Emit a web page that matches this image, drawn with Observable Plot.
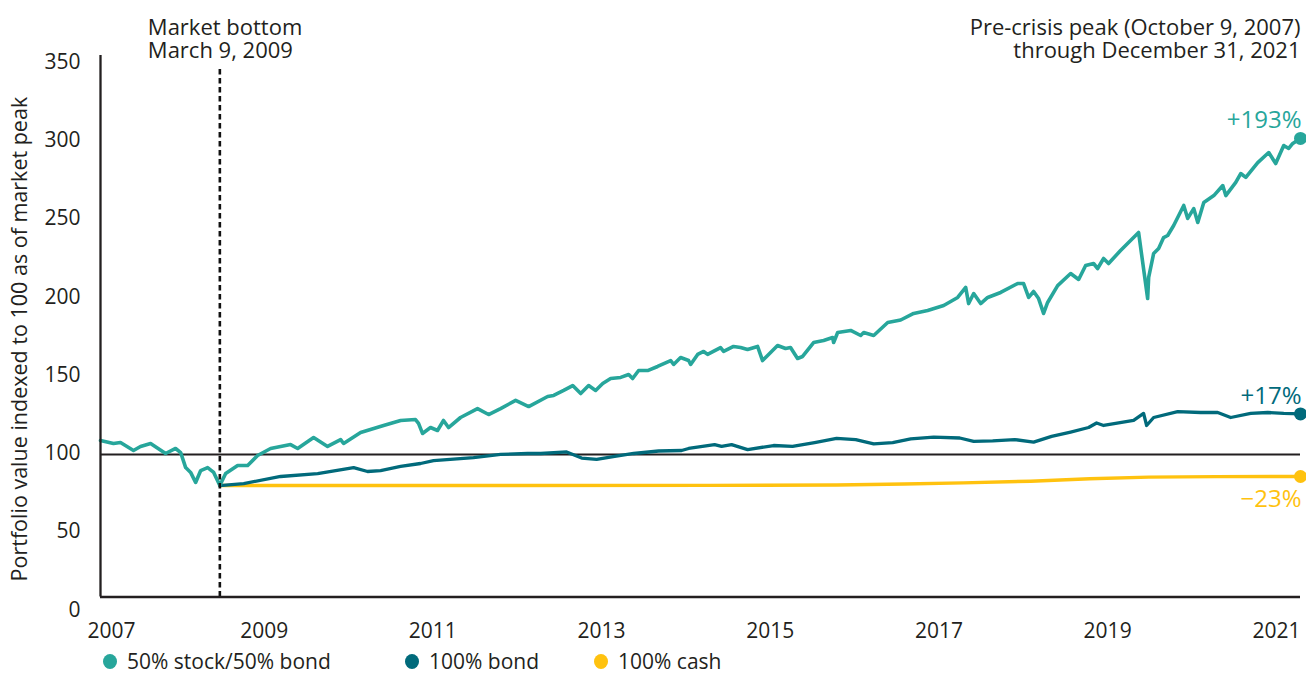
<!DOCTYPE html>
<html>
<head>
<meta charset="utf-8">
<script src="https://cdn.jsdelivr.net/npm/d3@7"></script>
<script src="https://cdn.jsdelivr.net/npm/@observablehq/plot@0.6"></script>
<style>
  body { margin: 0; background: #fff; font-family: "Open Sans", sans-serif; color: #231f20; }
  #legend { display: flex; align-items: center; margin-top: 10px; padding-left: 103px; font-size: 21px; line-height: 22px; height: 22px; }
  .item { display: flex; align-items: center; }
  .item:nth-child(1) { width: 302px; }
  .item:nth-child(2) { width: 189px; }
  .sw { display: inline-block; width: 14px; height: 15px; border-radius: 50%; margin-right: 10px; }
</style>
</head>
<body>
<div id="chart"></div>
<div id="legend"></div>
<script>
// ---------- data (dates as decimal years, values indexed to 100 at the market peak) ----------
const balancedYears = [2007.773, 2007.927, 2008.01, 2008.164, 2008.247, 2008.366, 2008.544, 2008.662, 2008.722, 2008.781,
  2008.840, 2008.899, 2008.959, 2009.041, 2009.113, 2009.186, 2009.255, 2009.397, 2009.516, 2009.634,
  2009.788, 2010.025, 2010.109, 2010.298, 2010.464, 2010.619, 2010.654, 2010.856, 2011.128, 2011.330,
  2011.507, 2011.543, 2011.590, 2011.685, 2011.768, 2011.839, 2011.899, 2012.041, 2012.242, 2012.373,
  2012.515, 2012.693, 2012.847, 2013.072, 2013.143, 2013.262, 2013.369, 2013.464, 2013.558, 2013.641,
  2013.725, 2013.819, 2013.938, 2014.033, 2014.080, 2014.151, 2014.258, 2014.376, 2014.531, 2014.566,
  2014.649, 2014.744, 2014.768, 2014.851, 2014.922, 2014.969, 2015.123, 2015.159, 2015.277, 2015.360,
  2015.443, 2015.562, 2015.621, 2015.681, 2015.799, 2015.894, 2015.953, 2016.036, 2016.096, 2016.226,
  2016.345, 2016.451, 2016.463, 2016.511, 2016.665, 2016.783, 2016.819, 2016.937, 2017.103, 2017.257,
  2017.411, 2017.577, 2017.767, 2017.933, 2018.028, 2018.063, 2018.123, 2018.206, 2018.289, 2018.443,
  2018.644, 2018.715, 2018.775, 2018.834, 2018.893, 2018.952, 2019.000, 2019.119, 2019.273, 2019.368,
  2019.451, 2019.545, 2019.593, 2019.664, 2019.723, 2019.865, 2019.984, 2020.079, 2020.186, 2020.198,
  2020.257, 2020.316, 2020.375, 2020.423, 2020.494, 2020.613, 2020.660, 2020.731, 2020.779, 2020.850,
  2020.969, 2021.075, 2021.111, 2021.229, 2021.288, 2021.348, 2021.490, 2021.620, 2021.703, 2021.798,
  2021.857, 2021.905, 2021.997];
const balancedValues = [100.0, 98.1, 98.7, 93.6, 96.2, 98.1, 91.7, 94.9, 92.3, 82.7,
  79.6, 73.2, 80.8, 82.7, 79.6, 71.2, 78.9, 84.0, 84.0, 90.4,
  94.9, 97.4, 94.9, 101.9, 96.2, 100.6, 98.1, 105.1, 109.6, 112.8,
  113.4, 110.9, 104.5, 108.3, 106.4, 112.8, 108.3, 114.7, 120.4, 116.6,
  120.4, 125.6, 121.7, 128.1, 128.8, 132.0, 135.1, 130.0, 135.1, 132.0,
  136.4, 139.6, 140.3, 142.2, 139.6, 144.7, 144.7, 147.3, 151.1, 148.6,
  153.0, 151.1, 148.6, 155.0, 156.9, 155.0, 159.4, 156.9, 160.1, 159.4,
  158.1, 160.1, 151.1, 154.3, 160.7, 158.8, 159.4, 152.4, 153.7, 162.6,
  163.9, 165.8, 162.6, 169.0, 170.3, 167.1, 169.0, 167.1, 175.4, 177.0,
  181.2, 183.1, 186.3, 191.4, 197.8, 187.5, 193.9, 187.5, 191.4, 194.6,
  200.3, 200.3, 191.4, 195.2, 190.7, 181.2, 188.2, 199.0, 206.7, 202.9,
  211.8, 213.1, 209.9, 216.3, 213.1, 221.4, 227.8, 232.9, 190.7, 204.2,
  219.5, 222.7, 229.7, 231.0, 237.4, 250.2, 241.9, 248.2, 239.3, 252.1,
  256.5, 262.9, 256.5, 264.9, 270.6, 268.1, 277.6, 284.0, 277.0, 288.5,
  286.6, 289.8, 293.0];

const bondYears = [2009.186, 2009.469, 2009.907, 2010.346, 2010.773, 2010.938, 2011.093, 2011.330, 2011.567, 2011.721,
  2012.195, 2012.515, 2012.835, 2012.99, 2013.297, 2013.475, 2013.653, 2013.867, 2014.092, 2014.388,
  2014.661, 2014.744, 2015.052, 2015.135, 2015.254, 2015.444, 2015.752, 2015.977, 2016.238, 2016.498,
  2016.724, 2016.937, 2017.162, 2017.376, 2017.649, 2017.957, 2018.123, 2018.348, 2018.609, 2018.834,
  2019.047, 2019.273, 2019.486, 2019.581, 2019.664, 2019.842, 2020.020, 2020.138, 2020.174, 2020.257,
  2020.541, 2020.813, 2021.015, 2021.169, 2021.406, 2021.608, 2021.798, 2021.997];
const bondValues = [71.2, 72.5, 77.0, 78.9, 82.7, 80.2, 80.8, 83.4, 85.3, 87.2,
  89.1, 91.1, 91.7, 91.7, 92.7, 88.8, 87.9, 89.8, 91.7, 93.3,
  93.6, 94.9, 97.4, 96.2, 97.4, 94.2, 96.8, 96.2, 98.7, 101.3,
  100.6, 97.8, 98.7, 101.0, 102.2, 101.6, 99.4, 99.7, 100.6, 99.0,
  102.6, 105.4, 108.3, 111.2, 109.6, 111.2, 112.8, 117.3, 109.6, 114.7,
  118.5, 117.9, 117.9, 114.7, 117.3, 117.9, 117.3, 117.0];

const cashYears = [2009.186, 2012.0, 2015.0, 2016.5, 2017.3, 2018.0, 2018.8, 2019.5, 2020.2, 2021.0, 2021.997];
const cashValues = [71.2, 71.2, 71.3, 71.6, 72.2, 72.9, 74.0, 75.6, 76.6, 76.9, 77.0];

const seriesNames = ["50% stock/50% bond", "100% bond", "100% cash"];
const seriesColors = ["#27a69b", "#016a7b", "#ffc20f"];
const endLabels = ["+193%", "+17%", "\u221223%"];
const yTicks = [0, 50, 100, 150, 200, 250, 300, 350];
const xTickYears = [2007, 2009, 2011, 2013, 2015, 2017, 2019, 2021];
const startYear = 2007.773;   // October 9, 2007
const bottomYear = 2009.186;  // March 9, 2009
const endYear = 2021.997;     // December 31, 2021
const referenceLevel = 100;
const yTitle = "Portfolio value indexed to 100 as of market peak";
const leftNote = "Market bottom\nMarch 9, 2009";
const rightNote = "Pre-crisis peak (October 9, 2007)\nthrough December 31, 2021";

// ---------- helpers ----------
function toDate(y) {
  const yr = Math.floor(y);
  const a = Date.UTC(yr, 0, 1), b = Date.UTC(yr + 1, 0, 1);
  return new Date(a + (y - yr) * (b - a));
}
function rows(years, values, name) {
  return years.map((y, i) => ({date: toDate(y), value: values[i], series: name}));
}
const balanced = rows(balancedYears, balancedValues, seriesNames[0]);
const bond = rows(bondYears, bondValues, seriesNames[1]);
const cash = rows(cashYears, cashValues, seriesNames[2]);
const all = [balanced, bond, cash];
const ends = all.map((s, i) => ({...s[s.length - 1], label: endLabels[i], color: seriesColors[i], gain: i < 2}));

const ink = "#231f20";
const font = "'Open Sans', sans-serif";
// first year label sits at the start of the axis, the others just after each January
const xLabelPos = xTickYears.map((y, i) => ({year: y, date: i === 0 ? toDate(startYear) : toDate(y), first: i === 0}));

const chart = Plot.plot({
  width: 1306,
  height: 640,
  marginLeft: 100,
  marginRight: 6,
  marginTop: 48.75,
  marginBottom: 43.5,
  style: {fontFamily: font, color: ink, background: "#fff", overflow: "visible"},
  x: {type: "utc", domain: [toDate(startYear), toDate(endYear)], axis: null},
  y: {domain: [0, 350], axis: null},
  marks: [
    Plot.ruleY([referenceLevel], {stroke: ink, strokeWidth: 2.2, dy: 14}),
    Plot.line(cash, {x: "date", y: "value", stroke: seriesColors[2], strokeWidth: 3.4}),
    Plot.line(bond, {x: "date", y: "value", stroke: seriesColors[1], strokeWidth: 3.3, strokeLinejoin: "round"}),
    Plot.line(balanced, {x: "date", y: "value", stroke: seriesColors[0], strokeWidth: 3.6, strokeLinejoin: "round"}),
    Plot.ruleX([toDate(bottomYear)], {y1: 0, y2: 338, stroke: "#111", strokeWidth: 2.6, strokeDasharray: "5.5,3.5"}),
    Plot.ruleX([toDate(startYear)], {y1: 0, y2: 346, stroke: ink, strokeWidth: 2.3}),
    Plot.ruleY([0], {stroke: ink, strokeWidth: 2.3}),
    Plot.dot(ends, {x: "date", y: "value", r: 6.5, fill: "color", stroke: null}),
    Plot.text(ends.filter(d => d.gain), {x: "date", y: "value", text: "label", fill: "color", textAnchor: "end", fontSize: 24, dy: -18, dx: 1}),
    Plot.text(ends.filter(d => !d.gain), {x: "date", y: "value", text: "label", fill: "color", textAnchor: "end", fontSize: 24, dy: 23, dx: 1}),
    Plot.text(yTicks, {y: d => d, text: d => String(d), frameAnchor: "left", textAnchor: "end", dx: -20, dy: 13, fontSize: 21, fill: ink}),
    Plot.text(xLabelPos.filter(d => d.first), {x: "date", text: d => String(d.year), frameAnchor: "bottom", lineAnchor: "middle", textAnchor: "middle", dx: 11, dy: 34.5, fontSize: 21, fill: ink}),
    Plot.text(xLabelPos.filter(d => !d.first), {x: "date", text: d => String(d.year), frameAnchor: "bottom", lineAnchor: "middle", textAnchor: "middle", dx: 60, dy: 34.5, fontSize: 21, fill: ink}),
    Plot.text([yTitle], {frameAnchor: "left", textAnchor: "middle", dx: -80, dy: 16, rotate: -90, fontSize: 21.5, fill: ink}),
    Plot.text([leftNote], {x: toDate(bottomYear), frameAnchor: "top", textAnchor: "start", dx: -72, dy: -31, lineHeight: 1.05, fontSize: 22, fill: ink}),
    Plot.text([rightNote], {x: toDate(endYear), frameAnchor: "top", textAnchor: "end", dy: -31, lineHeight: 1.05, fontSize: 22, fill: ink})
  ]
});
document.getElementById("chart").appendChild(chart);

// legend
const legend = document.getElementById("legend");
seriesNames.forEach((name, i) => {
  const item = document.createElement("div");
  item.className = "item";
  item.innerHTML = `<span class="sw" style="background:${seriesColors[i]}"></span><span>${name}</span>`;
  legend.appendChild(item);
});
</script>
</body>
</html>
